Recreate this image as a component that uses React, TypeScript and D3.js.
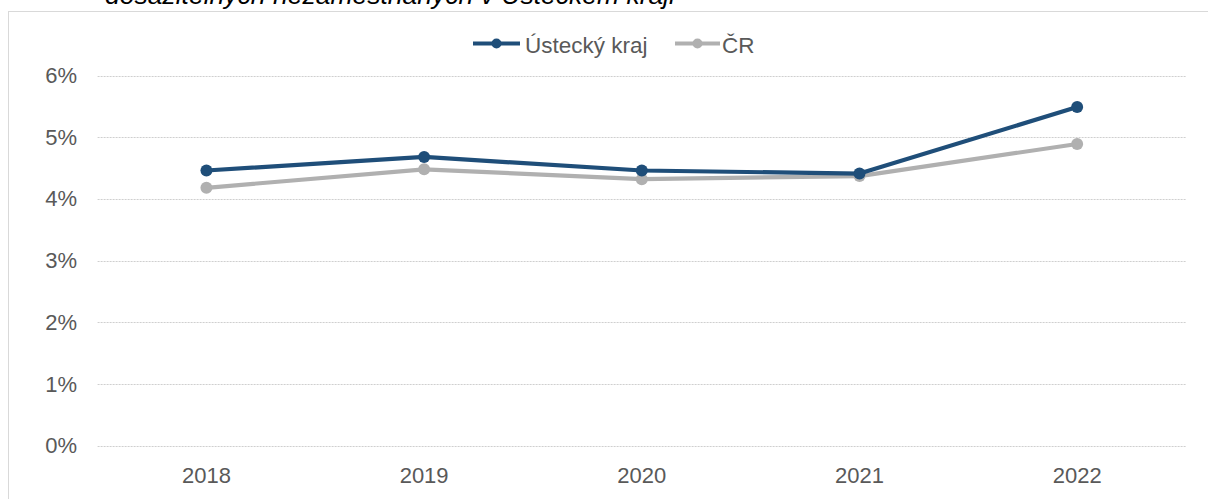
import React from "react";
import * as d3 from "d3";

const years = ["2018", "2019", "2020", "2021", "2022"];
const usteckyKraj = [0.0446, 0.0468, 0.0446, 0.0441, 0.0549];
const cr = [0.0418, 0.0448, 0.0432, 0.0437, 0.0489];
const yTicks = [0, 0.01, 0.02, 0.03, 0.04, 0.05, 0.06];
const seriesNames = ["Ústecký kraj", "ČR"];
const titleText = "dosažitelných nezaměstnaných v Ústeckém kraji";

const W = 1208;
const H = 499;
const FONT = "'Liberation Sans', Arial, sans-serif";
const BLUE = "#1f4e79";
const GREY = "#b0b0b0";

export default function App() {
  const x = d3.scaleBand<string>().domain(years).range([97.6, 1186]);
  const y = d3.scaleLinear().domain([0, 0.06]).range([445.7, 75.5]);
  const cx = (d: string) => (x(d) as number) + x.bandwidth() / 2;
  const line = d3
    .line<number>()
    .x((_, i) => cx(years[i]))
    .y((v) => y(v));
  const series = [
    { name: seriesNames[0], values: usteckyKraj, color: BLUE },
    { name: seriesNames[1], values: cr, color: GREY },
  ];
  const legend = [
    { x1: 473, x2: 520, tx: 525 },
    { x1: 675, x2: 720, tx: 722 },
  ];
  return (
    <svg
      width={W}
      height={H}
      style={{ position: "absolute", left: 0, top: 0, background: "#fff" }}
      fontFamily={FONT}
    >
      <rect x={8.5} y={11.5} width={1300} height={600} fill="#fff" stroke="#d9d9d9" strokeWidth={1} />
      <text
        x={105}
        y={4}
        fontSize={26}
        fontStyle="italic"
        fill="#000"
        textLength={570}
        lengthAdjust="spacingAndGlyphs"
      >
        {titleText}
      </text>
      {yTicks.map((t) => (
        <g key={t}>
          <line
            x1={97.6}
            x2={1186}
            y1={Math.round(y(t)) + 0.5}
            y2={Math.round(y(t)) + 0.5}
            stroke="#cfcfcf"
            strokeWidth={1}
            strokeDasharray="2,1"
          />
          <text
            x={77}
            y={y(t)}
            textAnchor="end"
            dominantBaseline="central"
            fontSize={22}
            fill="#595959"
          >
            {d3.format(".0%")(t)}
          </text>
        </g>
      ))}
      {years.map((yr) => (
        <text key={yr} x={cx(yr)} y={483} textAnchor="middle" fontSize={22} fill="#595959">
          {yr}
        </text>
      ))}
      {series
        .slice()
        .reverse()
        .map((s) => (
          <g key={s.name}>
            <path d={line(s.values) || ""} fill="none" stroke={s.color} strokeWidth={4.2} strokeLinejoin="round" />
            {s.values.map((v, i) => (
              <circle key={i} cx={cx(years[i])} cy={y(v)} r={6} fill={s.color} />
            ))}
          </g>
        ))}
      {series.map((s, i) => (
        <g key={s.name}>
          <line x1={legend[i].x1} x2={legend[i].x2} y1={43.5} y2={43.5} stroke={s.color} strokeWidth={4.2} />
          <circle cx={(legend[i].x1 + legend[i].x2) / 2} cy={43.5} r={5} fill={s.color} />
          <text x={legend[i].tx} y={53} fontSize={22.5} fill="#595959">
            {s.name}
          </text>
        </g>
      ))}
    </svg>
  );
}
